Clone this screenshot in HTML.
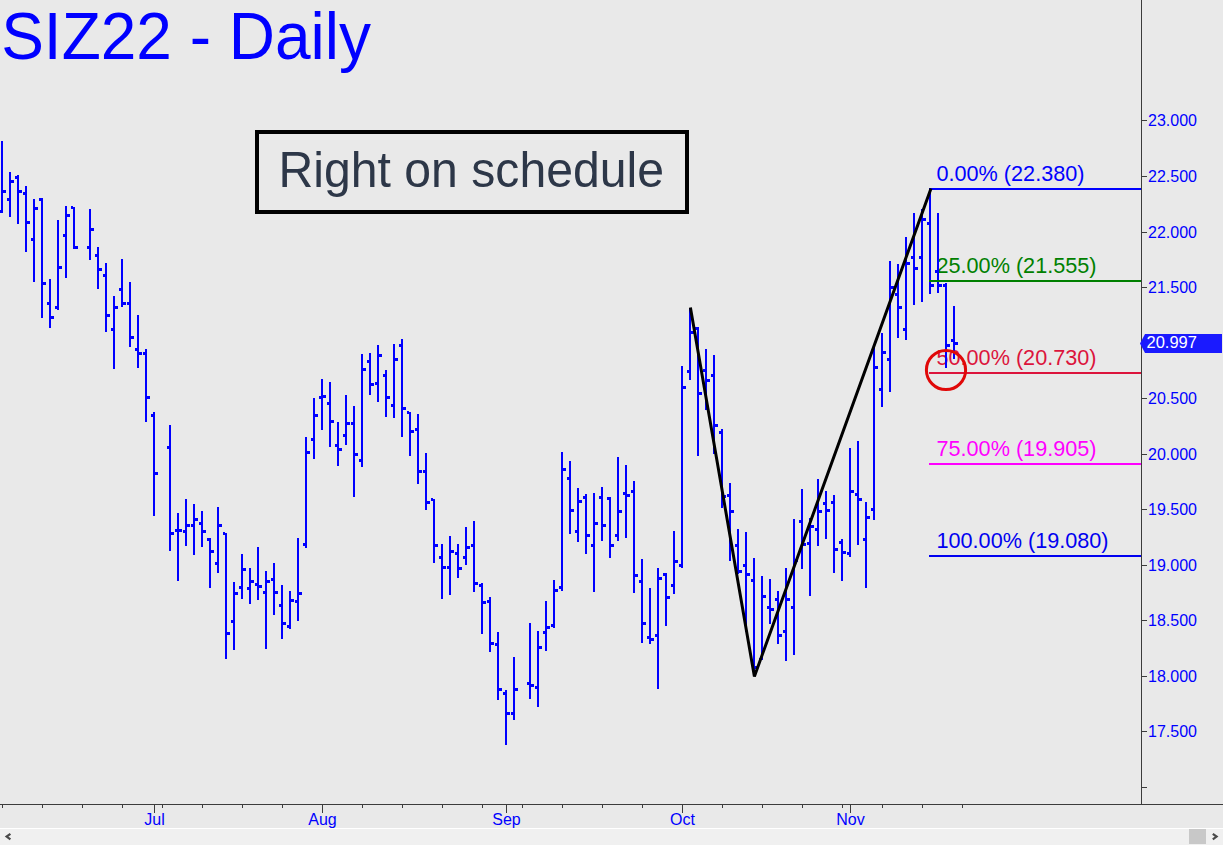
<!DOCTYPE html>
<html><head><meta charset="utf-8"><title>SIZ22 - Daily</title>
<style>
html,body{margin:0;padding:0;background:#e9e9e9;}
body{width:1223px;height:845px;overflow:hidden;position:relative;font-family:"Liberation Sans",sans-serif;}
svg{position:absolute;left:0;top:0;}
text{font-family:"Liberation Sans",sans-serif;}
.yl{font-size:16px;fill:#0000ff;}
.ml{font-size:16px;fill:#0000ff;}
.fl{font-size:21.65px;}
.title{font-size:64px;fill:#0000ff;}
.note{font-size:48px;fill:#2d3748;}
</style></head><body>
<svg width="1223" height="845" viewBox="0 0 1223 845">
<rect x="0" y="0" width="1223" height="845" fill="#e9e9e9"/>
<!-- fib text (under bars) -->
<g>
<text x="936.5" y="181" class="fl" fill="#0000ff">0.00% (22.380)</text>
<text x="936.5" y="273" class="fl" fill="#008000">25.00% (21.555)</text>
<text x="936.5" y="365" class="fl" fill="#dc143c">50.00% (20.730)</text>
<text x="936.5" y="456" class="fl" fill="#ff00ff">75.00% (19.905)</text>
<text x="936.5" y="548" class="fl" fill="#0000f0">100.00% (19.080)</text>
</g>
<!-- bars -->
<g fill="#0000ff" shape-rendering="crispEdges">
<rect x="1" y="141" width="2" height="72"/>
<rect x="-1" y="210" width="2" height="3"/>
<rect x="3" y="190" width="3" height="3"/>
<rect x="9" y="172" width="2" height="45"/>
<rect x="7" y="198" width="2" height="3"/>
<rect x="11" y="180" width="3" height="3"/>
<rect x="17" y="175" width="2" height="49"/>
<rect x="15" y="176" width="2" height="3"/>
<rect x="19" y="190" width="3" height="3"/>
<rect x="25" y="186" width="2" height="66"/>
<rect x="23" y="192" width="2" height="3"/>
<rect x="27" y="221" width="3" height="3"/>
<rect x="33" y="199" width="2" height="83"/>
<rect x="31" y="238" width="2" height="3"/>
<rect x="35" y="207" width="3" height="3"/>
<rect x="41" y="198" width="2" height="120"/>
<rect x="39" y="198" width="2" height="3"/>
<rect x="43" y="282" width="3" height="3"/>
<rect x="49" y="279" width="2" height="49"/>
<rect x="47" y="302" width="2" height="3"/>
<rect x="51" y="316" width="3" height="3"/>
<rect x="57" y="220" width="2" height="90"/>
<rect x="55" y="306" width="2" height="3"/>
<rect x="59" y="266" width="3" height="3"/>
<rect x="65" y="206" width="2" height="72"/>
<rect x="63" y="234" width="2" height="3"/>
<rect x="67" y="214" width="3" height="3"/>
<rect x="73" y="207" width="2" height="42"/>
<rect x="71" y="206" width="2" height="3"/>
<rect x="75" y="246" width="3" height="3"/>
<rect x="89" y="209" width="2" height="51"/>
<rect x="87" y="246" width="2" height="3"/>
<rect x="91" y="228" width="3" height="3"/>
<rect x="97" y="247" width="2" height="42"/>
<rect x="95" y="254" width="2" height="3"/>
<rect x="99" y="268" width="3" height="3"/>
<rect x="105" y="263" width="2" height="69"/>
<rect x="103" y="274" width="2" height="3"/>
<rect x="107" y="314" width="3" height="3"/>
<rect x="113" y="296" width="2" height="73"/>
<rect x="111" y="328" width="2" height="3"/>
<rect x="115" y="306" width="3" height="3"/>
<rect x="121" y="259" width="2" height="48"/>
<rect x="119" y="288" width="2" height="3"/>
<rect x="123" y="302" width="3" height="3"/>
<rect x="129" y="282" width="2" height="65"/>
<rect x="127" y="302" width="2" height="3"/>
<rect x="131" y="336" width="3" height="3"/>
<rect x="137" y="315" width="2" height="53"/>
<rect x="135" y="348" width="2" height="3"/>
<rect x="139" y="352" width="3" height="3"/>
<rect x="145" y="349" width="2" height="73"/>
<rect x="143" y="352" width="2" height="3"/>
<rect x="147" y="396" width="3" height="3"/>
<rect x="153" y="412" width="2" height="104"/>
<rect x="151" y="414" width="2" height="3"/>
<rect x="155" y="472" width="3" height="3"/>
<rect x="169" y="425" width="2" height="126"/>
<rect x="167" y="446" width="2" height="3"/>
<rect x="171" y="532" width="3" height="3"/>
<rect x="177" y="513" width="2" height="68"/>
<rect x="175" y="529" width="2" height="3"/>
<rect x="179" y="529" width="3" height="3"/>
<rect x="185" y="499" width="2" height="47"/>
<rect x="183" y="530" width="2" height="3"/>
<rect x="187" y="524" width="3" height="3"/>
<rect x="193" y="504" width="2" height="51"/>
<rect x="191" y="524" width="2" height="3"/>
<rect x="195" y="518" width="3" height="3"/>
<rect x="201" y="511" width="2" height="36"/>
<rect x="199" y="522" width="2" height="3"/>
<rect x="203" y="530" width="3" height="3"/>
<rect x="209" y="538" width="2" height="50"/>
<rect x="207" y="538" width="2" height="3"/>
<rect x="211" y="550" width="3" height="3"/>
<rect x="217" y="507" width="2" height="66"/>
<rect x="215" y="562" width="2" height="3"/>
<rect x="219" y="524" width="3" height="3"/>
<rect x="225" y="533" width="2" height="126"/>
<rect x="223" y="532" width="2" height="3"/>
<rect x="227" y="632" width="3" height="3"/>
<rect x="233" y="582" width="2" height="68"/>
<rect x="231" y="620" width="2" height="3"/>
<rect x="235" y="592" width="3" height="3"/>
<rect x="241" y="554" width="2" height="45"/>
<rect x="239" y="586" width="2" height="3"/>
<rect x="243" y="568" width="3" height="3"/>
<rect x="249" y="568" width="2" height="36"/>
<rect x="247" y="587" width="2" height="3"/>
<rect x="251" y="580" width="3" height="3"/>
<rect x="257" y="547" width="2" height="53"/>
<rect x="255" y="583" width="2" height="3"/>
<rect x="259" y="585" width="3" height="3"/>
<rect x="265" y="571" width="2" height="78"/>
<rect x="263" y="591" width="2" height="3"/>
<rect x="267" y="580" width="3" height="3"/>
<rect x="273" y="563" width="2" height="52"/>
<rect x="271" y="578" width="2" height="3"/>
<rect x="275" y="591" width="3" height="3"/>
<rect x="281" y="585" width="2" height="54"/>
<rect x="279" y="604" width="2" height="3"/>
<rect x="283" y="622" width="3" height="3"/>
<rect x="289" y="591" width="2" height="38"/>
<rect x="287" y="625" width="2" height="3"/>
<rect x="291" y="599" width="3" height="3"/>
<rect x="297" y="538" width="2" height="83"/>
<rect x="295" y="600" width="2" height="3"/>
<rect x="299" y="592" width="3" height="3"/>
<rect x="305" y="437" width="2" height="111"/>
<rect x="303" y="543" width="2" height="3"/>
<rect x="307" y="451" width="3" height="3"/>
<rect x="313" y="398" width="2" height="61"/>
<rect x="311" y="438" width="2" height="3"/>
<rect x="315" y="414" width="3" height="3"/>
<rect x="321" y="379" width="2" height="51"/>
<rect x="319" y="396" width="2" height="3"/>
<rect x="323" y="395" width="3" height="3"/>
<rect x="329" y="382" width="2" height="65"/>
<rect x="327" y="402" width="2" height="3"/>
<rect x="331" y="420" width="3" height="3"/>
<rect x="337" y="422" width="2" height="44"/>
<rect x="335" y="444" width="2" height="3"/>
<rect x="339" y="448" width="3" height="3"/>
<rect x="345" y="395" width="2" height="50"/>
<rect x="343" y="434" width="2" height="3"/>
<rect x="347" y="422" width="3" height="3"/>
<rect x="353" y="406" width="2" height="91"/>
<rect x="351" y="422" width="2" height="3"/>
<rect x="355" y="453" width="3" height="3"/>
<rect x="361" y="354" width="2" height="113"/>
<rect x="359" y="459" width="2" height="3"/>
<rect x="363" y="368" width="3" height="3"/>
<rect x="369" y="353" width="2" height="42"/>
<rect x="367" y="360" width="2" height="3"/>
<rect x="371" y="383" width="3" height="3"/>
<rect x="377" y="345" width="2" height="57"/>
<rect x="375" y="382" width="2" height="3"/>
<rect x="379" y="354" width="3" height="3"/>
<rect x="385" y="370" width="2" height="47"/>
<rect x="383" y="374" width="2" height="3"/>
<rect x="387" y="396" width="3" height="3"/>
<rect x="393" y="344" width="2" height="74"/>
<rect x="391" y="404" width="2" height="3"/>
<rect x="395" y="358" width="3" height="3"/>
<rect x="401" y="339" width="2" height="98"/>
<rect x="399" y="344" width="2" height="3"/>
<rect x="403" y="407" width="3" height="3"/>
<rect x="409" y="412" width="2" height="44"/>
<rect x="407" y="411" width="2" height="3"/>
<rect x="411" y="430" width="3" height="3"/>
<rect x="417" y="414" width="2" height="70"/>
<rect x="415" y="428" width="2" height="3"/>
<rect x="419" y="470" width="3" height="3"/>
<rect x="425" y="453" width="2" height="57"/>
<rect x="423" y="470" width="2" height="3"/>
<rect x="427" y="501" width="3" height="3"/>
<rect x="433" y="499" width="2" height="64"/>
<rect x="431" y="498" width="2" height="3"/>
<rect x="435" y="544" width="3" height="3"/>
<rect x="441" y="544" width="2" height="55"/>
<rect x="439" y="556" width="2" height="3"/>
<rect x="443" y="566" width="3" height="3"/>
<rect x="449" y="536" width="2" height="59"/>
<rect x="447" y="566" width="2" height="3"/>
<rect x="451" y="550" width="3" height="3"/>
<rect x="457" y="544" width="2" height="34"/>
<rect x="455" y="552" width="2" height="3"/>
<rect x="459" y="567" width="3" height="3"/>
<rect x="465" y="527" width="2" height="38"/>
<rect x="463" y="556" width="2" height="3"/>
<rect x="467" y="546" width="3" height="3"/>
<rect x="473" y="521" width="2" height="71"/>
<rect x="471" y="544" width="2" height="3"/>
<rect x="475" y="582" width="3" height="3"/>
<rect x="481" y="583" width="2" height="51"/>
<rect x="479" y="584" width="2" height="3"/>
<rect x="483" y="601" width="3" height="3"/>
<rect x="489" y="597" width="2" height="55"/>
<rect x="487" y="600" width="2" height="3"/>
<rect x="491" y="642" width="3" height="3"/>
<rect x="497" y="632" width="2" height="68"/>
<rect x="495" y="643" width="2" height="3"/>
<rect x="499" y="688" width="3" height="3"/>
<rect x="505" y="690" width="2" height="55"/>
<rect x="503" y="692" width="2" height="3"/>
<rect x="507" y="712" width="3" height="3"/>
<rect x="513" y="657" width="2" height="63"/>
<rect x="511" y="712" width="2" height="3"/>
<rect x="515" y="688" width="3" height="3"/>
<rect x="529" y="623" width="2" height="76"/>
<rect x="527" y="682" width="2" height="3"/>
<rect x="531" y="684" width="3" height="3"/>
<rect x="537" y="631" width="2" height="76"/>
<rect x="535" y="686" width="2" height="3"/>
<rect x="539" y="646" width="3" height="3"/>
<rect x="545" y="601" width="2" height="50"/>
<rect x="543" y="631" width="2" height="3"/>
<rect x="547" y="626" width="3" height="3"/>
<rect x="553" y="580" width="2" height="48"/>
<rect x="551" y="624" width="2" height="3"/>
<rect x="555" y="589" width="3" height="3"/>
<rect x="561" y="452" width="2" height="139"/>
<rect x="559" y="586" width="2" height="3"/>
<rect x="563" y="468" width="3" height="3"/>
<rect x="569" y="461" width="2" height="73"/>
<rect x="567" y="477" width="2" height="3"/>
<rect x="571" y="509" width="3" height="3"/>
<rect x="577" y="488" width="2" height="54"/>
<rect x="575" y="530" width="2" height="3"/>
<rect x="579" y="500" width="3" height="3"/>
<rect x="585" y="494" width="2" height="60"/>
<rect x="583" y="496" width="2" height="3"/>
<rect x="587" y="534" width="3" height="3"/>
<rect x="593" y="493" width="2" height="99"/>
<rect x="591" y="544" width="2" height="3"/>
<rect x="595" y="522" width="3" height="3"/>
<rect x="601" y="487" width="2" height="54"/>
<rect x="599" y="496" width="2" height="3"/>
<rect x="603" y="524" width="3" height="3"/>
<rect x="609" y="497" width="2" height="61"/>
<rect x="607" y="497" width="2" height="3"/>
<rect x="611" y="544" width="3" height="3"/>
<rect x="617" y="457" width="2" height="84"/>
<rect x="615" y="534" width="2" height="3"/>
<rect x="619" y="510" width="3" height="3"/>
<rect x="625" y="465" width="2" height="73"/>
<rect x="623" y="492" width="2" height="3"/>
<rect x="627" y="494" width="3" height="3"/>
<rect x="633" y="481" width="2" height="112"/>
<rect x="631" y="490" width="2" height="3"/>
<rect x="635" y="574" width="3" height="3"/>
<rect x="641" y="559" width="2" height="84"/>
<rect x="639" y="580" width="2" height="3"/>
<rect x="643" y="622" width="3" height="3"/>
<rect x="649" y="588" width="2" height="56"/>
<rect x="647" y="636" width="2" height="3"/>
<rect x="651" y="638" width="3" height="3"/>
<rect x="657" y="568" width="2" height="121"/>
<rect x="655" y="634" width="2" height="3"/>
<rect x="659" y="577" width="3" height="3"/>
<rect x="665" y="573" width="2" height="53"/>
<rect x="663" y="573" width="2" height="3"/>
<rect x="667" y="596" width="3" height="3"/>
<rect x="673" y="531" width="2" height="63"/>
<rect x="671" y="584" width="2" height="3"/>
<rect x="675" y="560" width="3" height="3"/>
<rect x="681" y="366" width="2" height="202"/>
<rect x="679" y="564" width="2" height="3"/>
<rect x="683" y="386" width="3" height="3"/>
<rect x="689" y="308" width="2" height="72"/>
<rect x="687" y="370" width="2" height="3"/>
<rect x="691" y="331" width="3" height="3"/>
<rect x="697" y="327" width="2" height="129"/>
<rect x="695" y="327" width="2" height="3"/>
<rect x="699" y="392" width="3" height="3"/>
<rect x="705" y="349" width="2" height="61"/>
<rect x="703" y="369" width="2" height="3"/>
<rect x="707" y="379" width="3" height="3"/>
<rect x="713" y="355" width="2" height="99"/>
<rect x="711" y="374" width="2" height="3"/>
<rect x="715" y="424" width="3" height="3"/>
<rect x="721" y="429" width="2" height="79"/>
<rect x="719" y="431" width="2" height="3"/>
<rect x="723" y="495" width="3" height="3"/>
<rect x="729" y="483" width="2" height="78"/>
<rect x="727" y="494" width="2" height="3"/>
<rect x="731" y="510" width="3" height="3"/>
<rect x="737" y="529" width="2" height="45"/>
<rect x="735" y="544" width="2" height="3"/>
<rect x="739" y="570" width="3" height="3"/>
<rect x="745" y="532" width="2" height="100"/>
<rect x="743" y="564" width="2" height="3"/>
<rect x="747" y="573" width="3" height="3"/>
<rect x="753" y="558" width="2" height="116"/>
<rect x="751" y="579" width="2" height="3"/>
<rect x="755" y="666" width="3" height="3"/>
<rect x="761" y="576" width="2" height="84"/>
<rect x="759" y="658" width="2" height="3"/>
<rect x="763" y="595" width="3" height="3"/>
<rect x="769" y="579" width="2" height="45"/>
<rect x="767" y="606" width="2" height="3"/>
<rect x="771" y="608" width="3" height="3"/>
<rect x="777" y="591" width="2" height="53"/>
<rect x="775" y="598" width="2" height="3"/>
<rect x="779" y="634" width="3" height="3"/>
<rect x="785" y="568" width="2" height="93"/>
<rect x="783" y="630" width="2" height="3"/>
<rect x="787" y="598" width="3" height="3"/>
<rect x="793" y="519" width="2" height="136"/>
<rect x="791" y="606" width="2" height="3"/>
<rect x="795" y="559" width="3" height="3"/>
<rect x="801" y="489" width="2" height="80"/>
<rect x="799" y="520" width="2" height="3"/>
<rect x="803" y="543" width="3" height="3"/>
<rect x="809" y="518" width="2" height="78"/>
<rect x="807" y="542" width="2" height="3"/>
<rect x="811" y="525" width="3" height="3"/>
<rect x="817" y="479" width="2" height="67"/>
<rect x="815" y="528" width="2" height="3"/>
<rect x="819" y="510" width="3" height="3"/>
<rect x="825" y="491" width="2" height="48"/>
<rect x="823" y="502" width="2" height="3"/>
<rect x="827" y="509" width="3" height="3"/>
<rect x="833" y="495" width="2" height="78"/>
<rect x="831" y="501" width="2" height="3"/>
<rect x="835" y="548" width="3" height="3"/>
<rect x="841" y="539" width="2" height="42"/>
<rect x="839" y="541" width="2" height="3"/>
<rect x="843" y="551" width="3" height="3"/>
<rect x="849" y="448" width="2" height="109"/>
<rect x="847" y="552" width="2" height="3"/>
<rect x="851" y="490" width="3" height="3"/>
<rect x="857" y="441" width="2" height="104"/>
<rect x="855" y="493" width="2" height="3"/>
<rect x="859" y="498" width="3" height="3"/>
<rect x="865" y="502" width="2" height="86"/>
<rect x="863" y="538" width="2" height="3"/>
<rect x="867" y="516" width="3" height="3"/>
<rect x="873" y="346" width="2" height="174"/>
<rect x="871" y="508" width="2" height="3"/>
<rect x="875" y="366" width="3" height="3"/>
<rect x="881" y="333" width="2" height="74"/>
<rect x="879" y="388" width="2" height="3"/>
<rect x="883" y="351" width="3" height="3"/>
<rect x="889" y="261" width="2" height="131"/>
<rect x="887" y="358" width="2" height="3"/>
<rect x="891" y="286" width="3" height="3"/>
<rect x="897" y="264" width="2" height="74"/>
<rect x="895" y="293" width="2" height="3"/>
<rect x="899" y="306" width="3" height="3"/>
<rect x="905" y="237" width="2" height="103"/>
<rect x="903" y="328" width="2" height="3"/>
<rect x="907" y="262" width="3" height="3"/>
<rect x="913" y="213" width="2" height="92"/>
<rect x="911" y="256" width="2" height="3"/>
<rect x="915" y="267" width="3" height="3"/>
<rect x="921" y="209" width="2" height="93"/>
<rect x="919" y="256" width="2" height="3"/>
<rect x="923" y="218" width="3" height="3"/>
<rect x="929" y="189" width="2" height="105"/>
<rect x="927" y="222" width="2" height="3"/>
<rect x="931" y="284" width="3" height="3"/>
<rect x="937" y="213" width="2" height="80"/>
<rect x="935" y="270" width="2" height="3"/>
<rect x="939" y="284" width="3" height="3"/>
<rect x="945" y="283" width="2" height="85"/>
<rect x="943" y="284" width="2" height="3"/>
<rect x="947" y="344" width="3" height="3"/>
<rect x="953" y="306" width="2" height="53"/>
<rect x="951" y="339" width="2" height="3"/>
<rect x="955" y="342" width="3" height="3"/>
</g>
<!-- fib lines -->
<g shape-rendering="crispEdges">
<rect x="929" y="188" width="212" height="2" fill="#0000ff"/>
<rect x="929" y="280" width="212" height="2" fill="#008000"/>
<rect x="929" y="372" width="212" height="2" fill="#dc143c"/>
<rect x="929" y="463" width="212" height="2" fill="#ff00ff"/>
<rect x="929" y="555" width="212" height="2" fill="#0000f0"/>
</g>
<!-- trend lines -->
<polyline points="690.4,307.4 754.4,676.4 931,188.5" fill="none" stroke="#000" stroke-width="3" stroke-linejoin="bevel"/>
<!-- circle -->
<circle cx="946" cy="370" r="19.6" fill="none" stroke="#e00808" stroke-width="3"/>
<!-- axes -->
<g fill="#3c3c3c" shape-rendering="crispEdges">
<rect x="1141" y="0" width="1" height="805"/>
<rect x="0" y="804" width="1223" height="1"/>
<rect x="2" y="805" width="1" height="3"/>
<rect x="42" y="805" width="1" height="3"/>
<rect x="82" y="805" width="1" height="3"/>
<rect x="122" y="805" width="1" height="3"/>
<rect x="162" y="805" width="1" height="3"/>
<rect x="202" y="805" width="1" height="3"/>
<rect x="242" y="805" width="1" height="3"/>
<rect x="282" y="805" width="1" height="3"/>
<rect x="322" y="805" width="1" height="3"/>
<rect x="362" y="805" width="1" height="3"/>
<rect x="402" y="805" width="1" height="3"/>
<rect x="442" y="805" width="1" height="3"/>
<rect x="482" y="805" width="1" height="3"/>
<rect x="522" y="805" width="1" height="3"/>
<rect x="562" y="805" width="1" height="3"/>
<rect x="602" y="805" width="1" height="3"/>
<rect x="642" y="805" width="1" height="3"/>
<rect x="682" y="805" width="1" height="3"/>
<rect x="722" y="805" width="1" height="3"/>
<rect x="762" y="805" width="1" height="3"/>
<rect x="802" y="805" width="1" height="3"/>
<rect x="842" y="805" width="1" height="3"/>
<rect x="882" y="805" width="1" height="3"/>
<rect x="922" y="805" width="1" height="3"/>
<rect x="962" y="805" width="1" height="3"/>
<rect x="154" y="805" width="1" height="8"/>
<rect x="322" y="805" width="1" height="8"/>
<rect x="506" y="805" width="1" height="8"/>
<rect x="682" y="805" width="1" height="8"/>
<rect x="850" y="805" width="1" height="8"/>
<rect x="1142" y="120" width="5" height="1"/>
<rect x="1142" y="176" width="5" height="1"/>
<rect x="1142" y="232" width="5" height="1"/>
<rect x="1142" y="287" width="5" height="1"/>
<rect x="1142" y="343" width="5" height="1"/>
<rect x="1142" y="398" width="5" height="1"/>
<rect x="1142" y="454" width="5" height="1"/>
<rect x="1142" y="509" width="5" height="1"/>
<rect x="1142" y="565" width="5" height="1"/>
<rect x="1142" y="620" width="5" height="1"/>
<rect x="1142" y="676" width="5" height="1"/>
<rect x="1142" y="731" width="5" height="1"/>
<rect x="1142" y="787" width="5" height="1"/>
</g>
<text x="1148" y="126" class="yl">23.000</text>
<text x="1148" y="182" class="yl">22.500</text>
<text x="1148" y="238" class="yl">22.000</text>
<text x="1148" y="293" class="yl">21.500</text>
<text x="1148" y="404" class="yl">20.500</text>
<text x="1148" y="460" class="yl">20.000</text>
<text x="1148" y="515" class="yl">19.500</text>
<text x="1148" y="571" class="yl">19.000</text>
<text x="1148" y="626" class="yl">18.500</text>
<text x="1148" y="682" class="yl">18.000</text>
<text x="1148" y="737" class="yl">17.500</text>
<text x="154.5" y="825" class="ml" text-anchor="middle">Jul</text>
<text x="322.5" y="825" class="ml" text-anchor="middle">Aug</text>
<text x="506.5" y="825" class="ml" text-anchor="middle">Sep</text>
<text x="682.5" y="825" class="ml" text-anchor="middle">Oct</text>
<text x="850.5" y="825" class="ml" text-anchor="middle">Nov</text>
<!-- price flag -->
<polygon points="1140,343.5 1145,334 1222,334 1222,353 1145,353" fill="#1a1aff"/>
<text x="1146.5" y="347.9" font-size="16.5" fill="#ffffff">20.997</text>
<!-- title -->
<text transform="translate(1.2,58.8) scale(1,1.046)" class="title">SIZ22 - Daily</text>
<!-- annotation -->
<rect x="257" y="132" width="430" height="80" fill="none" stroke="#000" stroke-width="4" shape-rendering="crispEdges"/>
<text transform="translate(278.4,187) scale(1.004,1.045)" class="note">Right on schedule</text>
<!-- scrollbar -->
<rect x="0" y="828" width="1223" height="1" fill="#ffffff"/>
<rect x="0" y="829" width="1223" height="16" fill="#f0f0f0"/>
<rect x="1189" y="829" width="17" height="15" fill="#c8c8c8"/>
<polyline points="10.4,833.8 6.6,836.6 10.4,839.4" fill="none" stroke="#4a4a4a" stroke-width="2.2"/>
<polyline points="1212.8,833.8 1216.6,836.6 1212.8,839.4" fill="none" stroke="#4a4a4a" stroke-width="2.2"/>
</svg>
</body></html>
